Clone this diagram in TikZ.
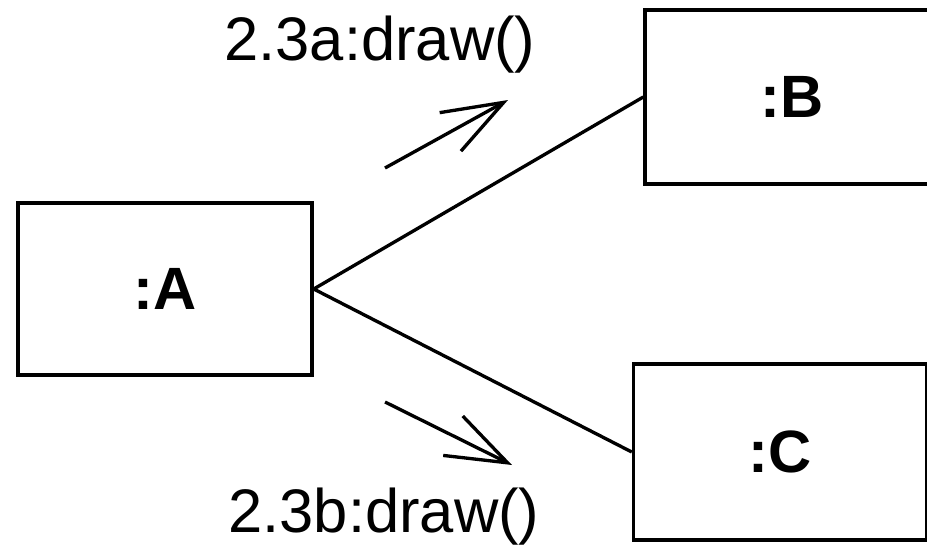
\documentclass[tikz,border=0pt]{standalone}
\usepackage{fontspec}
\setmainfont{Liberation Sans}
\usepackage{tikz}
\usetikzlibrary{arrows.meta}

\begin{document}
\begin{tikzpicture}[x=0.02cm, y=-0.02cm,
            obj/.style={draw, line width=2pt, minimum width=5.88cm, minimum height=3.44cm, font=\fontsize{34}{40}\selectfont\bfseries},
            msg/.style={font=\fontsize{35}{40}\selectfont},
            link/.style={line width=1.9pt},
            flow/.style={line width=1.9pt, -{Straight Barb[length=1.22cm, width=0.88cm, line width=1.9pt]}}]
            \useasboundingbox (0,0) rectangle (927,556);
            \node[obj] (objA) at (165,289) {:A};
            \node[obj, minimum height=3.48cm] (objB) at (792,97) {:B};
            \node[obj, minimum width=5.86cm, minimum height=3.52cm] (objC) at (780,452) {:C};
            \draw[link] (objA.east) -- (objB.west);
            \draw[link] (objA.east) -- (objC.west);
            % messages
            \coordinate (ma0) at (385,168);
            \coordinate (ma1) at (508,100);
            \coordinate (mb0) at (385,402);
            \coordinate (mb1) at (512,465);
            \draw[flow] (ma0) -- (ma1);
            \draw[flow] (mb0) -- (mb1);
            \node[msg] (lblA) at (380,45) {2.3a:draw()};
            \node[msg] (lblB) at (384,517) {2.3b:draw()};
        \end{tikzpicture}
\end{document}
